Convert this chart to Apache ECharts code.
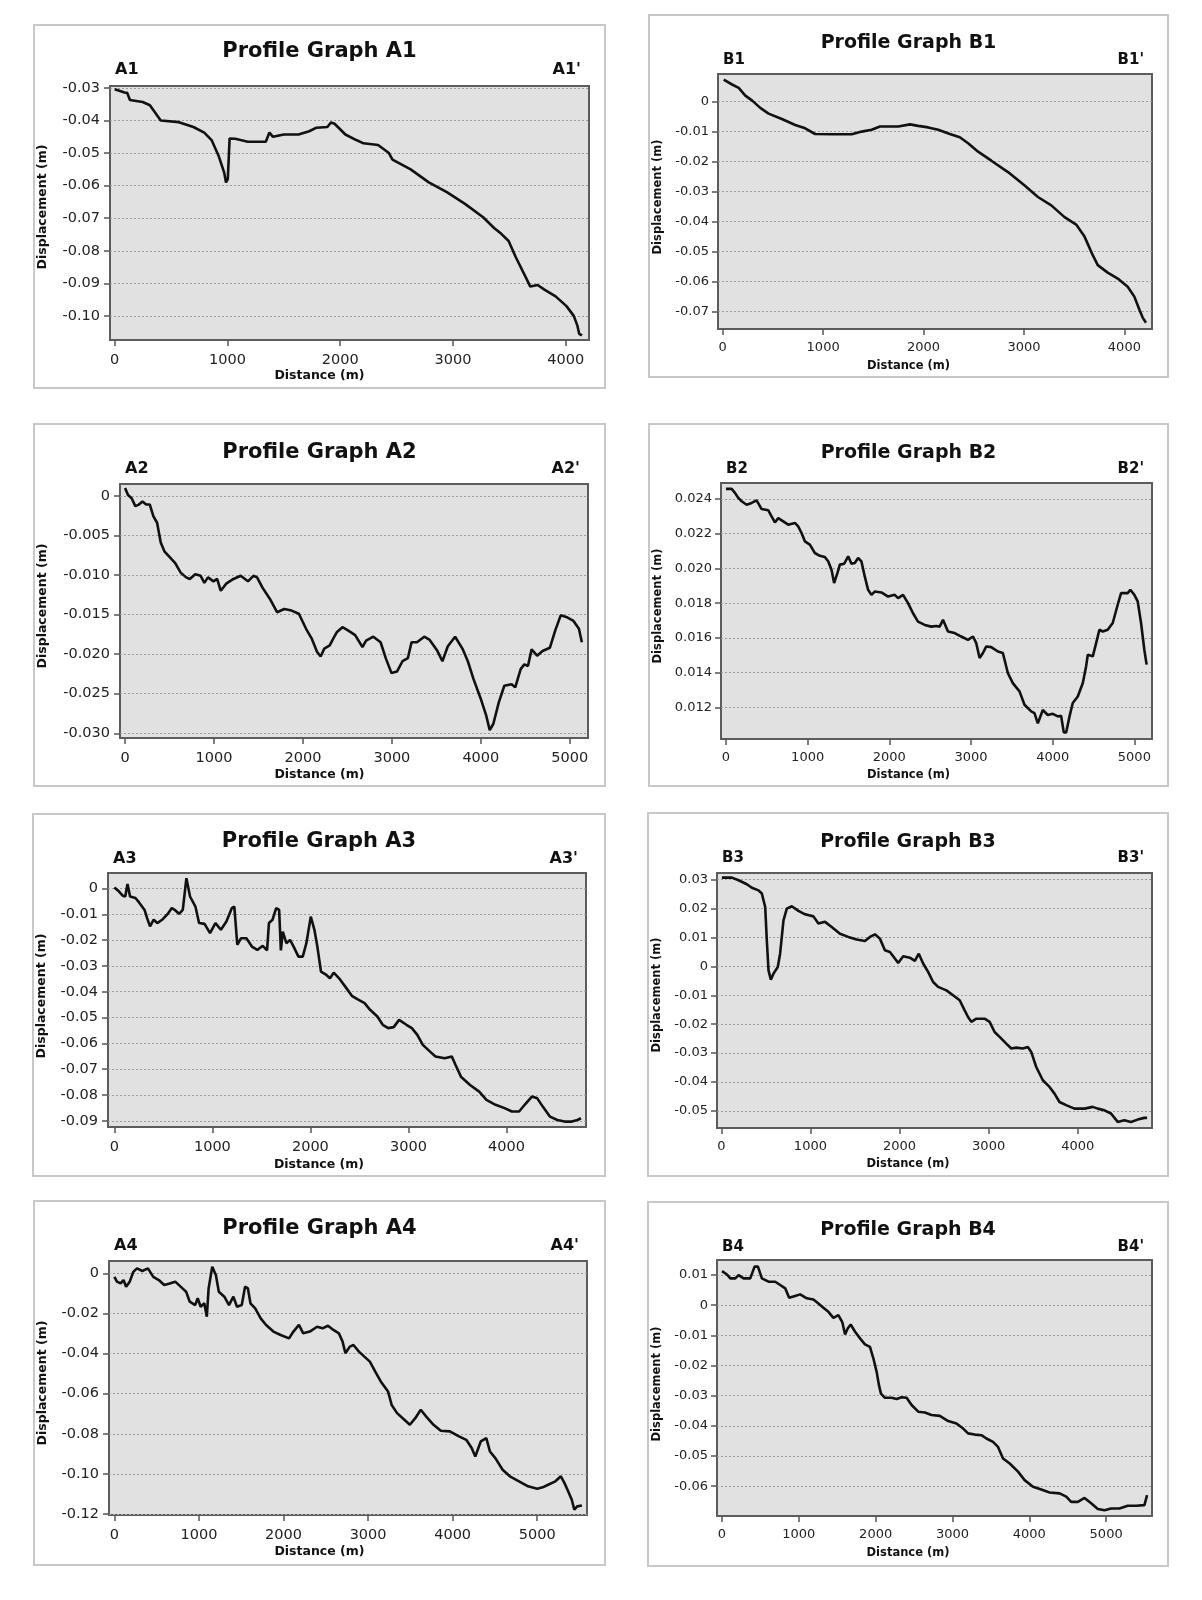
<!DOCTYPE html>
<html>
<head>
<meta charset="utf-8">
<title>Profile Graphs</title>
<script src="https://cdn.jsdelivr.net/npm/echarts@6/dist/echarts.min.js"></script>
<style>
    body { margin: 0; background: #fff; }
    .panel { position: absolute; background: #fff; box-shadow: inset 0 0 0 2px #c8c8c8; }
</style>
</head>
<body>
<div id="chartA1" class="panel" style="left:33px;top:24px;width:573px;height:365px"></div>
<div id="chartB1" class="panel" style="left:648px;top:14px;width:521px;height:364px"></div>
<div id="chartA2" class="panel" style="left:33px;top:423px;width:573px;height:364px"></div>
<div id="chartB2" class="panel" style="left:648px;top:423px;width:521px;height:364px"></div>
<div id="chartA3" class="panel" style="left:32px;top:813px;width:574px;height:364px"></div>
<div id="chartB3" class="panel" style="left:647px;top:812px;width:522px;height:365px"></div>
<div id="chartA4" class="panel" style="left:33px;top:1200px;width:573px;height:366px"></div>
<div id="chartB4" class="panel" style="left:647px;top:1201px;width:522px;height:366px"></div>
<script>
// profile points: [distance (m), displacement (m)]
var a1Profile = [[0,-0.0304],[87,-0.0314],[110,-0.0315],[135,-0.0337],[248,-0.0343],[312,-0.0353],[408,-0.0400],[569,-0.0405],[698,-0.0420],[794,-0.0437],[859,-0.0460],[923,-0.0510],[971,-0.0560],[987,-0.0590],[1003,-0.0580],[1019,-0.0455],[1068,-0.0456],[1116,-0.0460],[1180,-0.0465],[1340,-0.0465],[1372,-0.0437],[1404,-0.0450],[1500,-0.0443],[1630,-0.0443],[1725,-0.0433],[1790,-0.0422],[1886,-0.0420],[1918,-0.0406],[1950,-0.0410],[2046,-0.0443],[2143,-0.0460],[2207,-0.0470],[2336,-0.0475],[2432,-0.0500],[2464,-0.0520],[2625,-0.0550],[2786,-0.0590],[2946,-0.0620],[3107,-0.0656],[3268,-0.0697],[3365,-0.0730],[3429,-0.0748],[3494,-0.0770],[3558,-0.0820],[3654,-0.0887],[3686,-0.0910],[3751,-0.0905],[3815,-0.0920],[3911,-0.0940],[4007,-0.0970],[4072,-0.1000],[4104,-0.1030],[4120,-0.1055],[4145,-0.1060]];

var b1Profile = [[10,0.0073],[93,0.0057],[159,0.0046],[225,0.0020],[291,0.0004],[374,-0.0021],[457,-0.0040],[589,-0.0058],[722,-0.0078],[821,-0.0089],[920,-0.0108],[1086,-0.0109],[1285,-0.0109],[1384,-0.0100],[1483,-0.0094],[1566,-0.0083],[1748,-0.0083],[1864,-0.0076],[1947,-0.0081],[2046,-0.0086],[2146,-0.0094],[2262,-0.0108],[2361,-0.0119],[2444,-0.0139],[2543,-0.0167],[2675,-0.0197],[2841,-0.0235],[3007,-0.0280],[3139,-0.0318],[3272,-0.0346],[3404,-0.0385],[3520,-0.0410],[3603,-0.0450],[3685,-0.0512],[3735,-0.0545],[3834,-0.0570],[3934,-0.0590],[4033,-0.0617],[4099,-0.0650],[4149,-0.0693],[4182,-0.0720],[4215,-0.0737]];

var a2Profile = [[0,0.0010],[33,0.0001],[74,-0.0003],[115,-0.0013],[155,-0.0011],[196,-0.0007],[237,-0.0011],[278,-0.0011],[319,-0.0026],[360,-0.0034],[401,-0.0059],[442,-0.0070],[523,-0.0080],[564,-0.0085],[625,-0.0097],[687,-0.0103],[728,-0.0105],[789,-0.0099],[850,-0.0101],[891,-0.0110],[932,-0.0103],[994,-0.0108],[1035,-0.0105],[1076,-0.0120],[1137,-0.0111],[1219,-0.0105],[1300,-0.0101],[1382,-0.0108],[1443,-0.0101],[1484,-0.0103],[1545,-0.0116],[1627,-0.0130],[1709,-0.0147],[1790,-0.0143],[1872,-0.0145],[1954,-0.0149],[2035,-0.0168],[2097,-0.0180],[2158,-0.0197],[2199,-0.0203],[2240,-0.0193],[2301,-0.0189],[2342,-0.0180],[2383,-0.0172],[2444,-0.0166],[2506,-0.0170],[2587,-0.0176],[2669,-0.0191],[2710,-0.0183],[2791,-0.0178],[2873,-0.0185],[2934,-0.0206],[2996,-0.0224],[3057,-0.0222],[3119,-0.0209],[3180,-0.0205],[3221,-0.0185],[3282,-0.0185],[3364,-0.0178],[3425,-0.0182],[3507,-0.0195],[3568,-0.0209],[3629,-0.0190],[3711,-0.0178],[3793,-0.0193],[3854,-0.0209],[3916,-0.0231],[3998,-0.0256],[4059,-0.0277],[4100,-0.0296],[4141,-0.0288],[4202,-0.0261],[4264,-0.0240],[4346,-0.0238],[4387,-0.0242],[4448,-0.0219],[4489,-0.0213],[4530,-0.0215],[4571,-0.0194],[4633,-0.0202],[4694,-0.0196],[4776,-0.0192],[4837,-0.0170],[4898,-0.0151],[4960,-0.0153],[5042,-0.0158],[5103,-0.0168],[5136,-0.0185]];

var b2Profile = [[0,0.02458],[69,0.02458],[110,0.02435],[151,0.02406],[192,0.02387],[253,0.02367],[314,0.02377],[375,0.02392],[436,0.02342],[518,0.02335],[558,0.02300],[599,0.02265],[640,0.02290],[701,0.02271],[762,0.02252],[844,0.02262],[884,0.02242],[925,0.02204],[966,0.02156],[1027,0.02137],[1088,0.02089],[1149,0.02073],[1210,0.02066],[1251,0.02041],[1292,0.01993],[1324,0.01916],[1365,0.01974],[1394,0.02022],[1447,0.02027],[1496,0.02070],[1536,0.02027],[1577,0.02031],[1618,0.02060],[1658,0.02041],[1699,0.01954],[1740,0.01877],[1781,0.01848],[1821,0.01867],[1903,0.01862],[1985,0.01838],[2066,0.01848],[2107,0.01829],[2168,0.01848],[2229,0.01800],[2290,0.01742],[2351,0.01694],[2433,0.01675],[2514,0.01665],[2575,0.01669],[2616,0.01665],[2657,0.01704],[2718,0.01637],[2800,0.01628],[2881,0.01608],[2963,0.01589],[3024,0.01608],[3064,0.01570],[3105,0.01484],[3146,0.01513],[3187,0.01551],[3248,0.01547],[3329,0.01522],[3390,0.01513],[3451,0.01398],[3512,0.01340],[3594,0.01292],[3655,0.01215],[3737,0.01177],[3777,0.01167],[3818,0.01108],[3879,0.01185],[3940,0.01156],[4001,0.01163],[4063,0.01148],[4103,0.01152],[4136,0.01056],[4165,0.01056],[4206,0.01148],[4246,0.01225],[4307,0.01263],[4369,0.01340],[4409,0.01436],[4430,0.01503],[4491,0.01494],[4532,0.01570],[4572,0.01647],[4613,0.01637],[4674,0.01647],[4735,0.01686],[4796,0.01791],[4837,0.01858],[4918,0.01858],[4951,0.01877],[5000,0.01848],[5041,0.01810],[5082,0.01686],[5122,0.01532],[5150,0.01446]];

var a3Profile = [[0,0.0004],[48,-0.0012],[85,-0.0028],[111,-0.0031],[134,0.0017],[160,-0.0031],[215,-0.0037],[252,-0.0054],[308,-0.0083],[334,-0.0115],[364,-0.0147],[401,-0.0121],[438,-0.0134],[494,-0.0119],[549,-0.0096],[586,-0.0076],[623,-0.0085],[660,-0.0098],[698,-0.0083],[735,0.0040],[772,-0.0031],[827,-0.0070],[864,-0.0134],[920,-0.0137],[976,-0.0173],[1031,-0.0134],[1087,-0.0160],[1143,-0.0128],[1199,-0.0076],[1224,-0.0070],[1254,-0.0218],[1291,-0.0193],[1347,-0.0193],[1403,-0.0225],[1458,-0.0238],[1514,-0.0222],[1558,-0.0240],[1577,-0.0134],[1614,-0.0121],[1651,-0.0076],[1681,-0.0083],[1699,-0.0240],[1718,-0.0167],[1755,-0.0212],[1792,-0.0199],[1829,-0.0225],[1878,-0.0264],[1922,-0.0264],[1959,-0.0212],[2004,-0.0109],[2041,-0.0160],[2071,-0.0225],[2108,-0.0322],[2163,-0.0335],[2200,-0.0348],[2238,-0.0326],[2293,-0.0348],[2367,-0.0386],[2423,-0.0416],[2479,-0.0429],[2553,-0.0444],[2609,-0.0470],[2683,-0.0496],[2738,-0.0528],[2794,-0.0541],[2850,-0.0537],[2905,-0.0509],[2980,-0.0528],[3035,-0.0541],[3091,-0.0567],[3147,-0.0606],[3221,-0.0632],[3276,-0.0651],[3369,-0.0658],[3443,-0.0651],[3480,-0.0683],[3536,-0.0729],[3629,-0.0761],[3722,-0.0787],[3796,-0.0819],[3889,-0.0838],[3981,-0.0851],[4056,-0.0864],[4130,-0.0864],[4186,-0.0838],[4260,-0.0806],[4315,-0.0813],[4371,-0.0845],[4445,-0.0884],[4519,-0.0897],[4594,-0.0903],[4668,-0.0903],[4724,-0.0897],[4761,-0.0890]];

var b3Profile = [[7,0.0307],[119,0.0307],[194,0.0298],[287,0.0284],[343,0.0272],[418,0.0263],[455,0.0252],[493,0.0205],[511,0.0090],[530,-0.0014],[556,-0.0046],[586,-0.0025],[634,-0.0002],[660,0.0044],[698,0.0159],[735,0.0200],[791,0.0208],[866,0.0192],[940,0.0180],[1034,0.0173],[1090,0.0148],[1164,0.0154],[1239,0.0136],[1332,0.0113],[1425,0.0102],[1519,0.0093],[1612,0.0088],[1668,0.0102],[1724,0.0111],[1780,0.0096],[1836,0.0056],[1892,0.0050],[1948,0.0027],[1985,0.0012],[2041,0.0035],[2116,0.0030],[2172,0.0019],[2216,0.0044],[2265,0.0010],[2321,-0.0019],[2377,-0.0054],[2433,-0.0071],[2526,-0.0083],[2601,-0.0100],[2675,-0.0117],[2731,-0.0152],[2769,-0.0175],[2806,-0.0192],[2862,-0.0181],[2955,-0.0181],[3011,-0.0192],[3067,-0.0227],[3123,-0.0244],[3198,-0.0267],[3254,-0.0284],[3310,-0.0281],[3384,-0.0284],[3440,-0.0279],[3478,-0.0296],[3534,-0.0348],[3608,-0.0394],[3683,-0.0417],[3739,-0.0440],[3795,-0.0469],[3869,-0.0480],[3963,-0.0492],[4075,-0.0492],[4168,-0.0486],[4224,-0.0492],[4299,-0.0498],[4373,-0.0509],[4448,-0.0538],[4522,-0.0532],[4597,-0.0538],[4672,-0.0530],[4746,-0.0524],[4778,-0.0524]];

var a4Profile = [[0,-0.0017],[30,-0.0041],[73,-0.0050],[108,-0.0033],[138,-0.0066],[181,-0.0041],[224,0.0008],[267,0.0025],[331,0.0012],[396,0.0025],[460,-0.0017],[525,-0.0033],[589,-0.0058],[654,-0.0050],[719,-0.0041],[783,-0.0066],[848,-0.0091],[891,-0.0141],[955,-0.0158],[985,-0.0124],[1020,-0.0166],[1063,-0.0149],[1093,-0.0216],[1114,-0.0075],[1157,0.0033],[1200,-0.0008],[1235,-0.0091],[1300,-0.0116],[1355,-0.0158],[1407,-0.0116],[1450,-0.0166],[1506,-0.0158],[1545,-0.0066],[1579,-0.0075],[1609,-0.0149],[1665,-0.0174],[1730,-0.0224],[1794,-0.0257],[1880,-0.0290],[1966,-0.0307],[2065,-0.0324],[2117,-0.0290],[2182,-0.0257],[2233,-0.0299],[2311,-0.0290],[2397,-0.0266],[2461,-0.0274],[2526,-0.0261],[2590,-0.0282],[2655,-0.0299],[2698,-0.0340],[2732,-0.0398],[2784,-0.0365],[2827,-0.0357],[2892,-0.0390],[2956,-0.0415],[3021,-0.0440],[3085,-0.0490],[3150,-0.0539],[3236,-0.0589],[3279,-0.0656],[3343,-0.0697],[3429,-0.0730],[3494,-0.0755],[3558,-0.0722],[3623,-0.0680],[3688,-0.0714],[3774,-0.0755],[3860,-0.0785],[3967,-0.0788],[4075,-0.0813],[4161,-0.0830],[4225,-0.0871],[4268,-0.0913],[4333,-0.0838],[4398,-0.0822],[4441,-0.0888],[4505,-0.0921],[4591,-0.0979],[4677,-0.1012],[4785,-0.1037],[4892,-0.1062],[5000,-0.1074],[5065,-0.1067],[5129,-0.1054],[5215,-0.1037],[5280,-0.1012],[5323,-0.1046],[5366,-0.1087],[5409,-0.1129],[5439,-0.1178],[5473,-0.1162],[5529,-0.1158]];

var b4Profile = [[0,0.0113],[65,0.0102],[108,0.0089],[173,0.0089],[216,0.0100],[281,0.0089],[368,0.0089],[424,0.0128],[468,0.0128],[519,0.0089],[606,0.0078],[693,0.0078],[758,0.0067],[823,0.0056],[874,0.0025],[952,0.0031],[1017,0.0036],[1104,0.0023],[1190,0.0019],[1255,0.0006],[1320,-0.0008],[1385,-0.0022],[1450,-0.0042],[1515,-0.0033],[1567,-0.0057],[1602,-0.0097],[1636,-0.0077],[1675,-0.0064],[1732,-0.0088],[1797,-0.0110],[1861,-0.0130],[1926,-0.0138],[1970,-0.0176],[2013,-0.0221],[2043,-0.0265],[2069,-0.0293],[2121,-0.0307],[2208,-0.0307],[2273,-0.0311],[2338,-0.0305],[2403,-0.0307],[2468,-0.0331],[2554,-0.0353],[2641,-0.0356],[2727,-0.0364],[2835,-0.0367],[2944,-0.0384],[3052,-0.0392],[3139,-0.0409],[3203,-0.0425],[3290,-0.0429],[3377,-0.0431],[3442,-0.0442],[3528,-0.0453],[3593,-0.0470],[3658,-0.0508],[3745,-0.0525],[3853,-0.0552],[3939,-0.0580],[4048,-0.0602],[4156,-0.0611],[4264,-0.0621],[4394,-0.0624],[4481,-0.0635],[4545,-0.0652],[4632,-0.0652],[4719,-0.0639],[4805,-0.0657],[4892,-0.0676],[4978,-0.0680],[5065,-0.0674],[5173,-0.0674],[5281,-0.0665],[5390,-0.0665],[5498,-0.0663],[5533,-0.0630]];

// tick labels
var dist4k = [0, 1000, 2000, 3000, 4000];
var dist5k = [0, 1000, 2000, 3000, 4000, 5000];
var a1DispTicks = [-0.10, -0.09, -0.08, -0.07, -0.06, -0.05, -0.04, -0.03];
var b1DispTicks = [-0.07, -0.06, -0.05, -0.04, -0.03, -0.02, -0.01, 0];
var a2DispTicks = [-0.030, -0.025, -0.020, -0.015, -0.010, -0.005, 0];
var b2DispTicks = [0.012, 0.014, 0.016, 0.018, 0.020, 0.022, 0.024];
var a3DispTicks = [-0.09, -0.08, -0.07, -0.06, -0.05, -0.04, -0.03, -0.02, -0.01, 0];
var b3DispTicks = [-0.05, -0.04, -0.03, -0.02, -0.01, 0, 0.01, 0.02, 0.03];
var a4DispTicks = [-0.12, -0.10, -0.08, -0.06, -0.04, -0.02, 0];
var b4DispTicks = [-0.06, -0.05, -0.04, -0.03, -0.02, -0.01, 0, 0.01];

// left column panels are drawn a little larger than right column ones
var bigText = { title: 21, corner: 16, axisName: 12.5, tick: 14.5, yMargin: 10, xMargin: 13 };
var smallText = { title: 19, corner: 15, axisName: 11.5, tick: 13, yMargin: 9, xMargin: 12 };

var panels = [
    { id: 'chartA1', label: 'A1', data: a1Profile, xTicks: dist4k, yTicks: a1DispTicks, digits: 2,
      xRange: [-42, 4207], yRange: [-0.1074, -0.0294], grid: [77, 62, 479, 254], text: bigText, titleY: 28 },
    { id: 'chartB1', label: 'B1', data: b1Profile, xTicks: dist4k, yTicks: b1DispTicks, digits: 2,
      xRange: [-47, 4275], yRange: [-0.0758, 0.0092], grid: [70, 60, 434, 255], text: smallText, titleY: 29 },
    { id: 'chartA2', label: 'A2', data: a2Profile, xTicks: dist5k, yTicks: a2DispTicks, digits: 3,
      xRange: [-57, 5205], yRange: [-0.0306, 0.0015], grid: [87, 61, 468, 254], text: bigText, titleY: 30 },
    { id: 'chartB2', label: 'B2', data: b2Profile, xTicks: dist5k, yTicks: b2DispTicks, digits: 3,
      xRange: [-61, 5216], yRange: [0.01018, 0.02492], grid: [73, 60, 431, 256], text: smallText, titleY: 30 },
    { id: 'chartA3', label: 'A3', data: a3Profile, xTicks: dist4k, yTicks: a3DispTicks, digits: 2,
      xRange: [-65, 4812], yRange: [-0.0924, 0.006], grid: [76, 60, 478, 254], text: bigText, titleY: 29 },
    { id: 'chartB3', label: 'B3', data: b3Profile, xTicks: dist4k, yTicks: b3DispTicks, digits: 2,
      xRange: [-48, 4833], yRange: [-0.0559, 0.0323], grid: [70, 61, 435, 255], text: smallText, titleY: 30 },
    { id: 'chartA4', label: 'A4', data: a4Profile, xTicks: dist5k, yTicks: a4DispTicks, digits: 2,
      xRange: [-64, 5589], yRange: [-0.1205, 0.0062], grid: [76, 61, 478, 254], text: bigText, titleY: 29 },
    { id: 'chartB4', label: 'B4', data: b4Profile, xTicks: dist5k, yTicks: b4DispTicks, digits: 2,
      xRange: [-65, 5597], yRange: [-0.0699, 0.015], grid: [70, 59, 435, 256], text: smallText, titleY: 29 }
];

var FONT = '"DejaVu Sans", Verdana, sans-serif';

function drawProfile(p) {
    var dom = document.getElementById(p.id);
    var chart = echarts.init(dom);
    var w = dom.clientWidth;
    var t = p.text;
    var g = p.grid;
    var cx = w / 2;
    var tickStyle = { color: '#555', width: 1.5 };

    var option = {
        animation: false,
        grid: {
            left: g[0], top: g[1], width: g[2], height: g[3],
            show: true,
            backgroundColor: '#e1e1e1',
            borderColor: '#5c5c5c',
            borderWidth: 2
        },
        xAxis: {
            type: 'value',
            position: 'bottom',
            min: p.xRange[0],
            max: p.xRange[1],
            axisLine: { show: false, onZero: false },
            axisTick: { show: true, length: 6, lineStyle: tickStyle, customValues: p.xTicks },
            axisLabel: {
                customValues: p.xTicks,
                margin: t.xMargin,
                color: '#222',
                fontFamily: FONT,
                fontSize: t.tick,
                formatter: function (v) { return String(v); }
            },
            splitLine: { show: false }
        },
        yAxis: {
            type: 'value',
            position: 'left',
            min: p.yRange[0],
            max: p.yRange[1],
            axisLine: { show: false, onZero: false },
            axisTick: { show: true, length: 6, lineStyle: tickStyle, customValues: p.yTicks },
            axisLabel: {
                customValues: p.yTicks,
                margin: t.yMargin,
                color: '#222',
                fontFamily: FONT,
                fontSize: t.tick,
                formatter: function (v) {
                    return Math.abs(v) < 1e-9 ? '0' : v.toFixed(p.digits);
                }
            },
            splitLine: { show: true, lineStyle: { color: '#9c9c9c', type: [2, 2], width: 1 } }
        },
        graphic: [
            { type: 'text', x: cx, y: p.titleY, silent: true,
              style: { text: 'Profile Graph ' + p.label, align: 'center', verticalAlign: 'middle',
                       font: 'bold ' + t.title + 'px ' + FONT, fill: '#111' } },
            { type: 'text', x: g[0] + 5, y: 46, silent: true,
              style: { text: p.label, align: 'left', verticalAlign: 'middle',
                       font: 'bold ' + t.corner + 'px ' + FONT, fill: '#111' } },
            { type: 'text', x: g[0] + g[2] - 8, y: 46, silent: true,
              style: { text: p.label + "'", align: 'right', verticalAlign: 'middle',
                       font: 'bold ' + t.corner + 'px ' + FONT, fill: '#111' } },
            { type: 'text', x: cx, y: 352, silent: true,
              style: { text: 'Distance (m)', align: 'center', verticalAlign: 'middle',
                       font: 'bold ' + t.axisName + 'px ' + FONT, fill: '#111' } },
            { type: 'text', x: 10, y: 183, rotation: Math.PI / 2, silent: true,
              style: { text: 'Displacement (m)', align: 'center', verticalAlign: 'middle',
                       font: 'bold ' + t.axisName + 'px ' + FONT, fill: '#111' } }
        ],
        series: [{
            type: 'line',
            data: p.data,
            symbol: 'none',
            lineStyle: { color: '#111', width: 2.6 },
            z: 5
        }]
    };
    chart.setOption(option);
}

panels.forEach(drawProfile);
</script>
</body>
</html>
